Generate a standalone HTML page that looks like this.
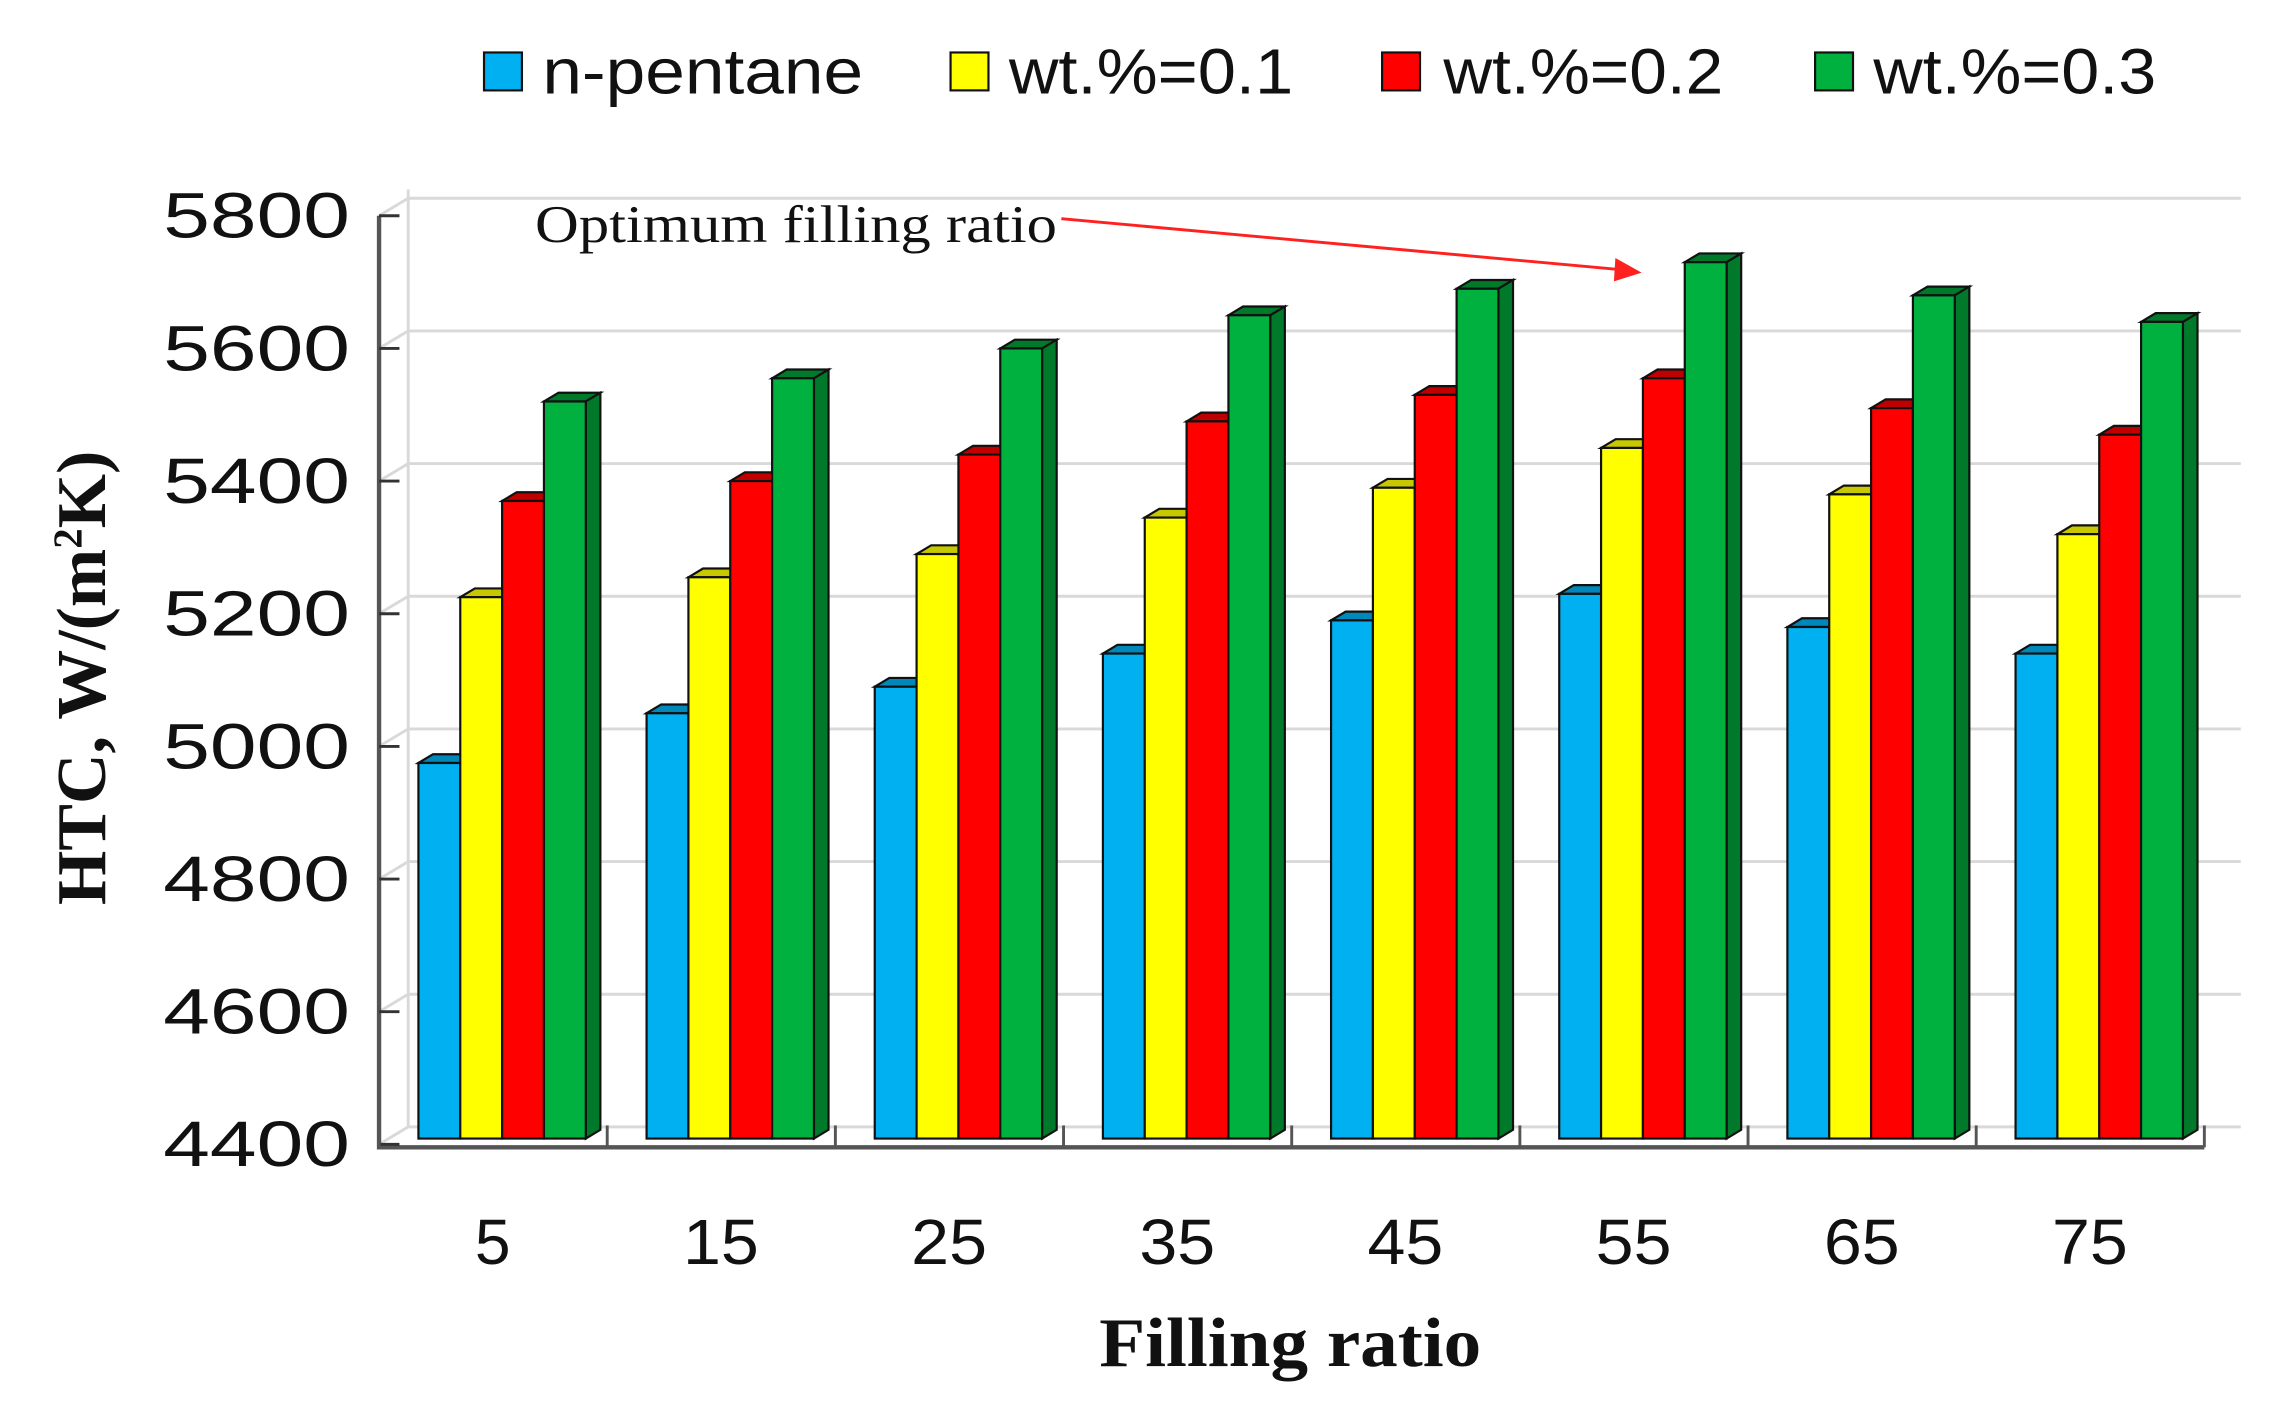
<!DOCTYPE html>
<html><head><meta charset="utf-8"><style>html,body{margin:0;padding:0;background:#fff}svg{display:block}</style></head><body>
<svg width="2286" height="1417" viewBox="0 0 1568 972" preserveAspectRatio="none" xmlns="http://www.w3.org/2000/svg">
<g stroke="#d9d9d9" stroke-width="2" fill="none" id="grid"></g>
<script>
(function(){
var svg=document.currentScript.parentNode,NS="http://www.w3.org/2000/svg";
function el(t,a,p){var e=document.createElementNS(NS,t);for(var k in a)e.setAttribute(k,a[k]);(p||svg).appendChild(e);return e;}
var g=document.getElementById('grid');
for(var i=0;i<8;i++){var y=785-i*91;el('path',{d:'M260 '+y+' L280 '+(y-12)+' L1537 '+(y-12)},g);}
el('path',{d:'M280 130 L280 773',stroke:'#d9d9d9','stroke-width':2,fill:'none'});
el('path',{d:'M260 148 L260 787 L1512 787',stroke:'#555','stroke-width':3,fill:'none'});
for(var i=0;i<8;i++){var y=148+i*91;el('path',{d:'M260 '+y+' L274 '+y,stroke:'#333','stroke-width':2});
 el('text',{x:240,y:y+15,'text-anchor':'end','font-family':'Liberation Sans, sans-serif','font-size':44,textLength:128,lengthAdjust:'spacingAndGlyphs',fill:'#111'}).textContent=5800-i*200;}
for(var i=0;i<=8;i++){var x=260+i*156.5;el('path',{d:'M'+x+' 787 L'+x+' 772',stroke:'#555','stroke-width':2});}
var vals=[[4975,5050,5090,5140,5190,5230,5180,5140],[5225,5255,5290,5345,5390,5450,5380,5320],[5370,5400,5440,5490,5530,5555,5510,5470],[5520,5555,5600,5650,5690,5730,5680,5640]];
var cols=[['#00b0f0','#0088bb'],['#ffff00','#c8c800'],['#ff0000','#c00000'],['#00b140','#007a2a']];
var labs=[5,15,25,35,45,55,65,75];
for(var gi=0;gi<8;gi++){var x0=260+gi*156.5+27;
 for(var s=0;s<4;s++){var v=vals[s][gi],tp=785-(v-4400)*0.455,x=x0+s*28.7,w=28.7,b=781,dx=10,dy=6;
  el('path',{d:'M'+x+' '+tp+' L'+(x+dx)+' '+(tp-dy)+' L'+(x+w+dx)+' '+(tp-dy)+' L'+(x+w)+' '+tp+'Z',fill:cols[s][1],stroke:'#111','stroke-width':1.5});
  if(s==3)el('path',{d:'M'+(x+w)+' '+tp+' L'+(x+w+dx)+' '+(tp-dy)+' L'+(x+w+dx)+' '+(b-dy)+' L'+(x+w)+' '+b+'Z',fill:cols[s][1],stroke:'#111','stroke-width':1.5});
  el('rect',{x:x,y:tp,width:w,height:b-tp,fill:cols[s][0],stroke:'#111','stroke-width':1.5});}
 var t=el('text',{x:260+gi*156.5+78,y:867,'text-anchor':'middle','font-family':'Liberation Sans, sans-serif','font-size':44,fill:'#111'});t.textContent=labs[gi];
 if(gi>0){t.setAttribute('textLength',52);t.setAttribute('lengthAdjust','spacingAndGlyphs');}}
var L=[[332,372,'n-pentane',220],[652,692,'wt.%=0.1',195],[948,990,'wt.%=0.2',192],[1245,1285,'wt.%=0.3',194]];
for(var i=0;i<4;i++){el('rect',{x:L[i][0],y:36,width:26,height:26,fill:cols[i][0],stroke:'#111','stroke-width':1.5});
 el('text',{x:L[i][1],y:64,'font-family':'Liberation Sans, sans-serif','font-size':44,textLength:L[i][3],lengthAdjust:'spacingAndGlyphs',fill:'#111'}).textContent=L[i][2];}
})();
</script>
<text x="367" y="166" font-family="Liberation Serif, serif" font-size="36" textLength="358" lengthAdjust="spacingAndGlyphs" fill="#111">Optimum filling ratio</text>
<path d="M728 150 L1112 185" stroke="#ff2020" stroke-width="2"/>
<path d="M1126 187 L1108 177 L1107 193 Z" fill="#ff2020"/>
<text x="885" y="937" text-anchor="middle" font-family="Liberation Serif, serif" font-weight="bold" font-size="48" textLength="262" lengthAdjust="spacingAndGlyphs" fill="#111">Filling ratio</text>
<text transform="translate(72,465) rotate(-90)" text-anchor="middle" font-family="Liberation Serif, serif" font-weight="bold" font-size="48" fill="#111">HTC, W/(m<tspan font-size="28" dy="-16">2</tspan><tspan dy="16">K)</tspan></text>
</svg>
</body></html>
